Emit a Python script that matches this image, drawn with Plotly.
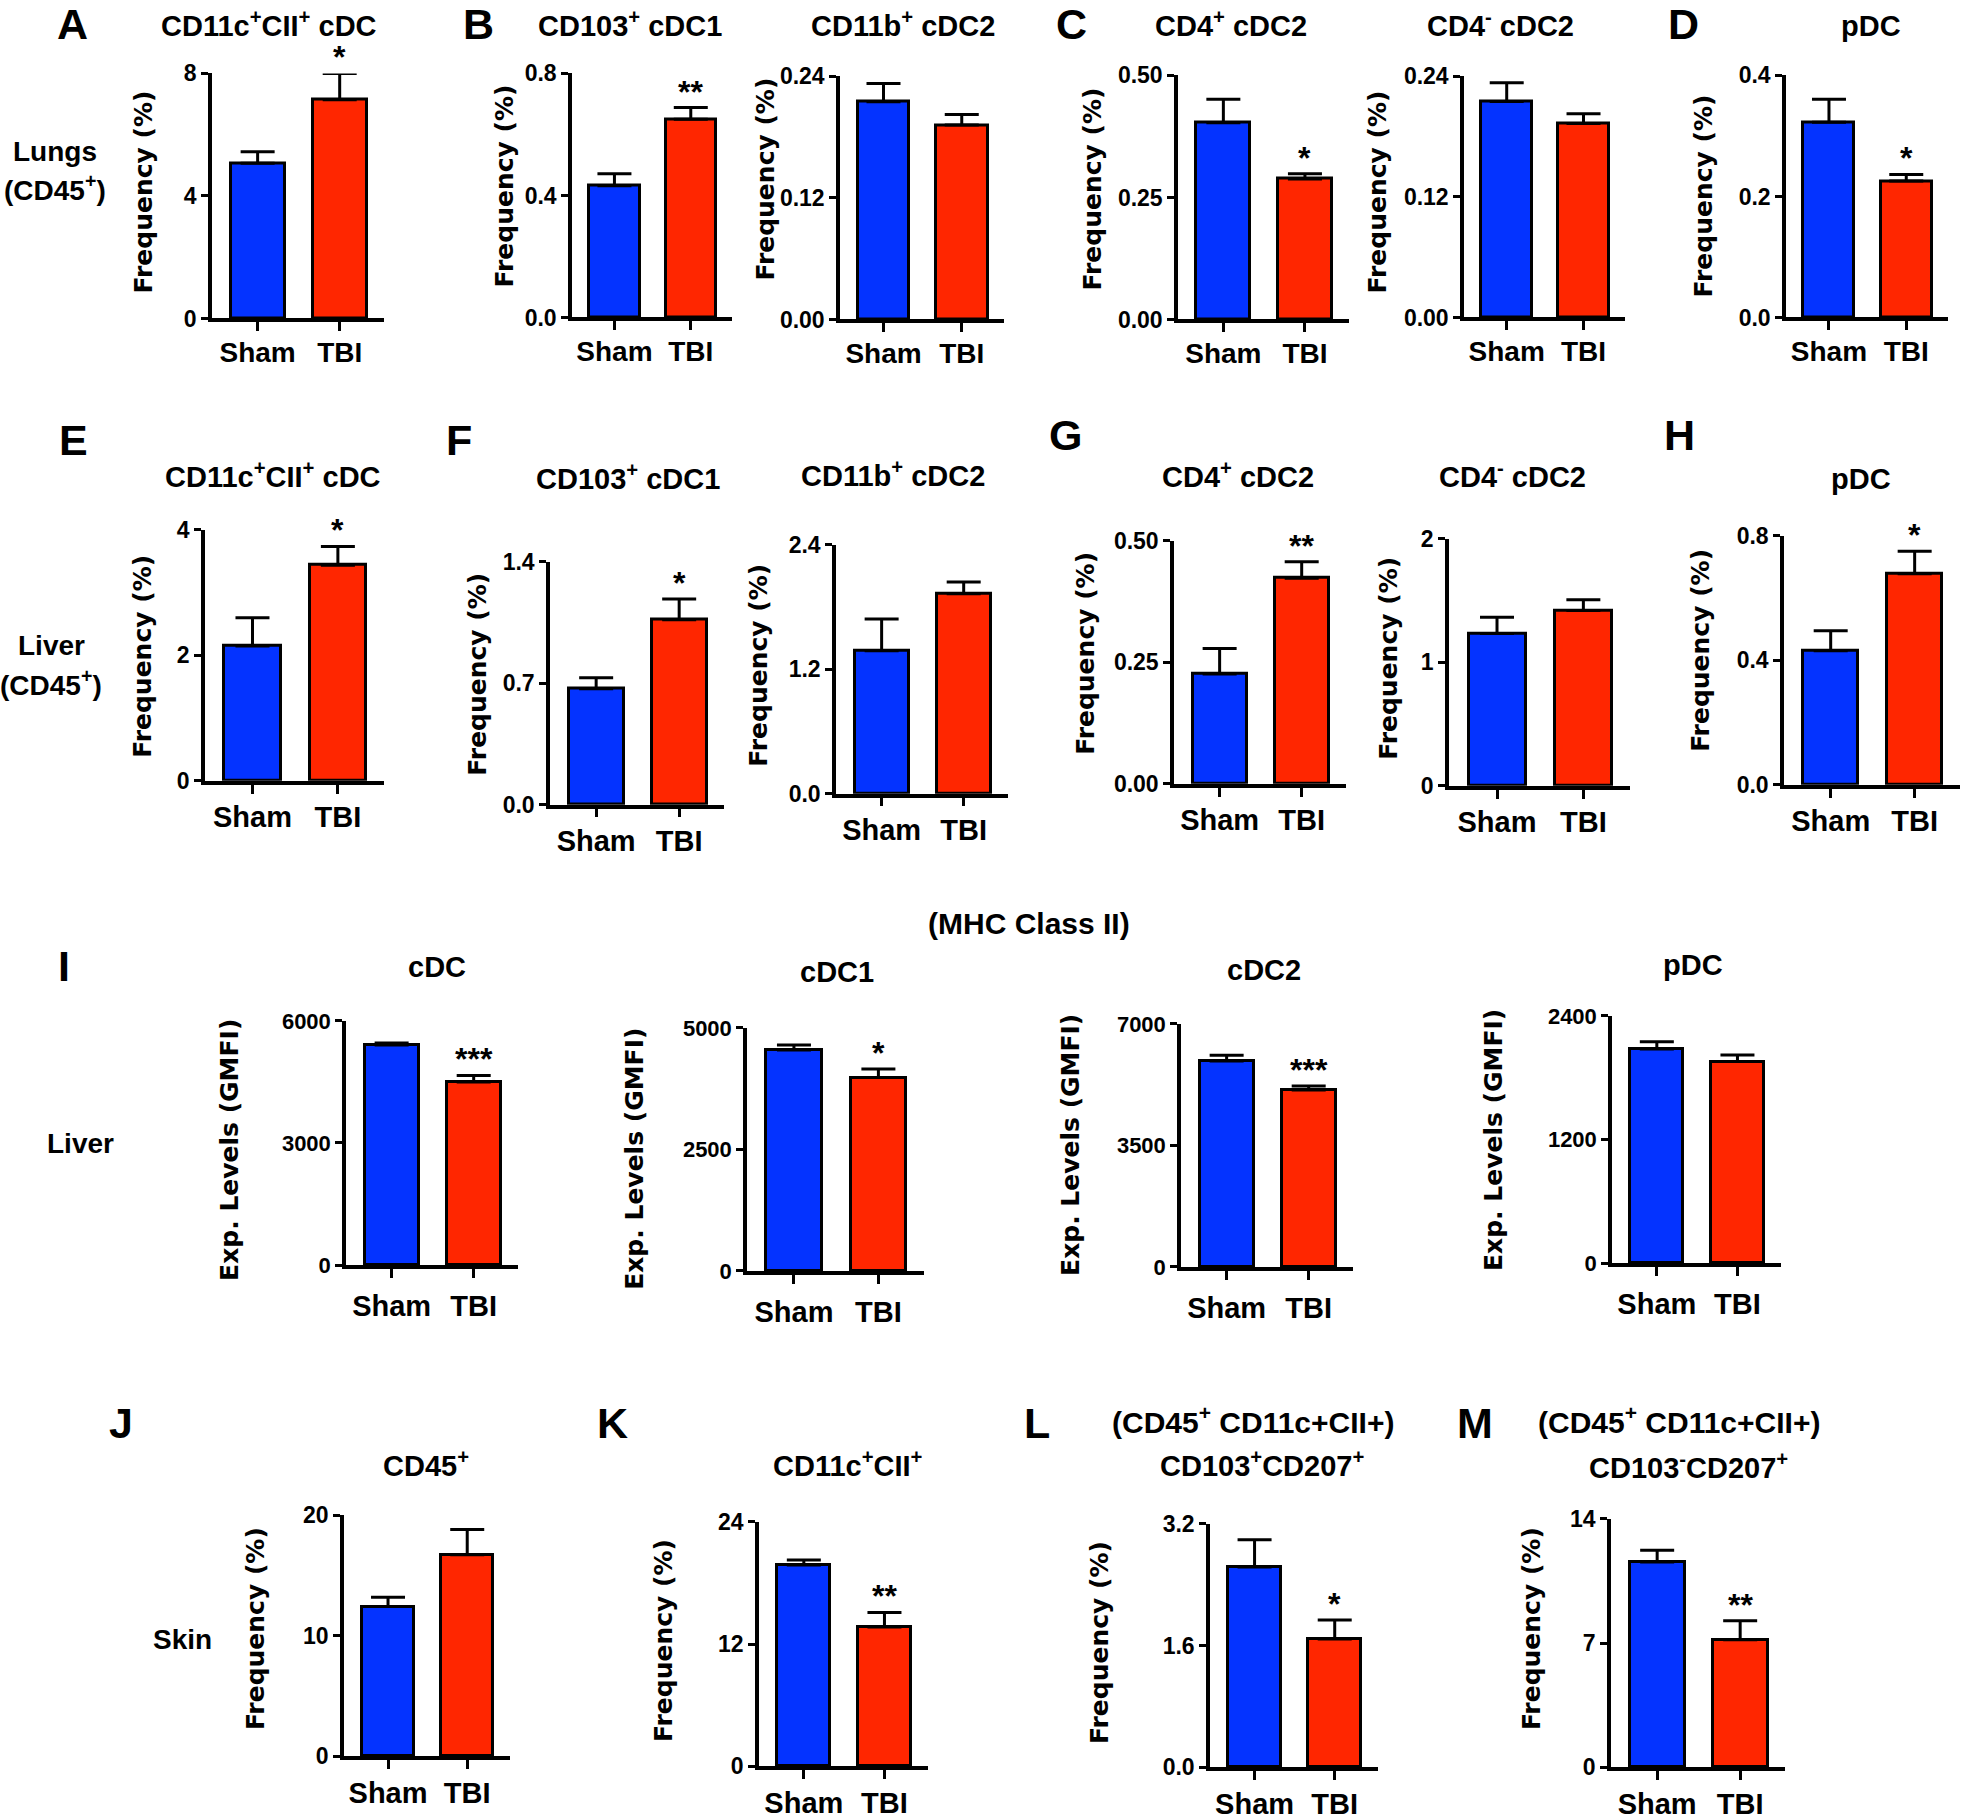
import plotly.graph_objects as go

# ---------------- data ----------------
GROUPS = ["Sham", "TBI"]

PANEL_IDS = ["A", "B1", "B2", "C1", "C2", "D",
             "E", "F1", "F2", "G1", "G2", "H",
             "I1", "I2", "I3", "I4",
             "J", "K", "L", "M"]

TITLES = [
    "CD11c<sup>+</sup>CII<sup>+</sup> cDC", "CD103<sup>+</sup> cDC1", "CD11b<sup>+</sup> cDC2",
    "CD4<sup>+</sup> cDC2", "CD4<sup>-</sup> cDC2", "pDC",
    "CD11c<sup>+</sup>CII<sup>+</sup> cDC", "CD103<sup>+</sup> cDC1", "CD11b<sup>+</sup> cDC2",
    "CD4<sup>+</sup> cDC2", "CD4<sup>-</sup> cDC2", "pDC",
    "cDC", "cDC1", "cDC2", "pDC",
    "CD45<sup>+</sup>", "CD11c<sup>+</sup>CII<sup>+</sup>",
    "CD103<sup>+</sup>CD207<sup>+</sup>", "CD103<sup>-</sup>CD207<sup>+</sup>",
]

SHAM_MEAN = [5.07, 0.432, 0.215, 0.403, 0.215, 0.3225,
             2.15, 0.667, 1.377, 0.226, 1.232, 0.431,
             5407, 4544, 5933, 2079,
             12.41, 19.77, 2.634, 11.57]
SHAM_SEM = [0.37, 0.039, 0.018, 0.048, 0.0187, 0.038,
            0.447, 0.064, 0.306, 0.0525, 0.133, 0.064,
            48, 102, 162, 70,
            0.77, 0.49, 0.357, 0.66]
TBI_MEAN = [7.14, 0.650, 0.192, 0.288, 0.193, 0.2254,
            3.435, 1.065, 1.928, 0.423, 1.419, 0.678,
            4496, 3978, 5095, 1957,
            16.71, 13.68, 1.685, 7.19]
TBI_SEM = [0.86, 0.038, 0.0105, 0.0105, 0.0098, 0.011,
           0.301, 0.12, 0.112, 0.034, 0.088, 0.072,
           163, 177, 115, 64,
           2.08, 1.43, 0.252, 1.06]

Y_MAX = [8, 0.8, 0.24, 0.50, 0.24, 0.4,
         4, 1.4, 2.4, 0.50, 2, 0.8,
         6000, 5000, 7000, 2400,
         20, 24, 3.2, 14]
Y_TICK_TEXT = [
    ["0", "4", "8"], ["0.0", "0.4", "0.8"], ["0.00", "0.12", "0.24"],
    ["0.00", "0.25", "0.50"], ["0.00", "0.12", "0.24"], ["0.0", "0.2", "0.4"],
    ["0", "2", "4"], ["0.0", "0.7", "1.4"], ["0.0", "1.2", "2.4"],
    ["0.00", "0.25", "0.50"], ["0", "1", "2"], ["0.0", "0.4", "0.8"],
    ["0", "3000", "6000"], ["0", "2500", "5000"], ["0", "3500", "7000"], ["0", "1200", "2400"],
    ["0", "10", "20"], ["0", "12", "24"], ["0.0", "1.6", "3.2"], ["0", "7", "14"],
]
SIG = ["*", "**", "", "*", "", "*",
       "*", "*", "", "**", "", "*",
       "***", "*", "***", "",
       "", "**", "*", "**"]
Y_TITLES = ["Frequency (%)"] * 12 + ["Exp. Levels (GMFI)"] * 4 + ["Frequency (%)"] * 4

PANEL_LETTERS = ["A", "B", "C", "D", "E", "F", "G", "H", "I", "J", "K", "L", "M"]
SIDE_LABELS = ["Lungs", "(CD45<sup>+</sup>)", "Liver", "(CD45<sup>+</sup>)", "Liver", "Skin"]
EXTRA_LABELS = ["(MHC Class II)", "(CD45<sup>+</sup> CD11c+CII+)", "(CD45<sup>+</sup> CD11c+CII+)"]

# ---------------- layout (pixel geometry) ----------------
W, H = 1968, 1820
BLUE = "#0433FF"
RED = "#FF2600"

# plot box: x_left, x_right, y_top, y_bottom
BOX = [
    (212, 384, 73, 320), (572, 732, 73, 319), (840, 1004, 76, 321),
    (1178, 1349, 75, 321), (1464, 1625, 76, 319), (1786, 1948, 75, 319),
    (205, 384, 530, 783), (550, 724, 562, 807), (836, 1008, 545, 796),
    (1174, 1346, 541, 786), (1449, 1630, 539, 788), (1784, 1960, 536, 787),
    (346, 518, 1022, 1268), (747, 924, 1029, 1274), (1181, 1353, 1025, 1270), (1612, 1781, 1017, 1266),
    (344, 510, 1523, 1766), (759, 928, 1530, 1776), (1210, 1378, 1532, 1777), (1611, 1785, 1527, 1777),
]
ROW = [0] * 6 + [1] * 6 + [2] * 4 + [3] * 4
ROW_SHIFT = [0, 3, 6, 3]
ROW_STANDOFF = [-3, -1, 3, -1]
TITLE_POS = [
    (269, 23), (630, 23), (903, 23), (1231, 23), (1500, 23), (1871, 25),
    (273, 478), (628, 480), (893, 477), (1238, 478), (1512, 478), (1861, 482),
    (437, 974), (837, 979), (1264, 977), (1693, 972),
    (426, 1475), (848, 1475), (1262, 1475), (1688, 1477),
]
YTITLE_POS = [
    (143, 193), (505, 187), (766, 180), (1093, 190), (1377, 193), (1703, 197),
    (143, 661), (478, 679), (759, 670), (1086, 658), (1389, 663), (1701, 655),
    (230, 1158), (635, 1167), (1071, 1153), (1494, 1148),
    (255, 1641), (663, 1653), (1099, 1655), (1531, 1641),
]
LETTER_POS = [(72, 23), (478, 23), (1071, 23), (1683, 23), (73, 442), (459, 442),
              (1065, 437), (1679, 437), (64, 973), (121, 1433), (612, 1433),
              (1037, 1433), (1475, 1433)]
SIDE_POS = [(55, 152), (55, 188), (51, 650), (51, 687), (80, 1152), (182, 1651)]
EXTRA_POS = [(1029, 930), (1253, 1430), (1679, 1430)]

FONT_WIDE = "Liberation Sans, Arial, sans-serif"
FONT_AXIS = "DejaVu Sans, Verdana, sans-serif"


def px(x):
    return x / W


def Y(y):
    # compensate the vertical mapping observed in the rendered page
    return (y - 12.1) / 0.9852


def py(y):
    return 1 - Y(y) / H


def bold(size, family=FONT_WIDE):
    return dict(family=family, size=size, color="black", weight="bold")


fig = go.Figure()
annotations = []

for i, pid in enumerate(PANEL_IDS):
    n = i + 1
    sfx = "" if n == 1 else str(n)
    xa, ya = "x" + sfx, "y" + sfx
    fig.add_trace(go.Bar(
        x=[0, 1], y=[SHAM_MEAN[i], TBI_MEAN[i]],
        xaxis=xa, yaxis=ya, width=0.66,
        marker=dict(color=[BLUE, RED], line=dict(color="black", width=3)),
        error_y=dict(type="data", symmetric=False,
                     array=[SHAM_SEM[i], TBI_SEM[i]], arrayminus=[0, 0],
                     color="black", thickness=3, width=17),
        showlegend=False, hoverinfo="skip",
    ))
    x0, x1, yt, yb = BOX[i]
    row = ROW[i]
    sh = ROW_SHIFT[row]
    ymax = Y_MAX[i]
    fig.update_layout(**{
        "xaxis" + sfx: dict(
            domain=[px(x0), px(x1)], anchor=ya, range=[-0.556, 1.54],
            tickmode="array", tickvals=[0, 1], ticktext=GROUPS,
            ticks="outside", ticklen=9, tickwidth=3, tickcolor="black",
            showline=True, linewidth=3.5, linecolor="black",
            showgrid=False, zeroline=False, fixedrange=True,
            tickfont=bold(28 if row == 0 else 29),
            ticklabelstandoff=ROW_STANDOFF[row],
        ),
        "yaxis" + sfx: dict(
            domain=[py(yb + sh), py(yt + sh)], anchor=xa, range=[0, ymax],
            tickmode="array", tickvals=[0, ymax / 2, ymax], ticktext=Y_TICK_TEXT[i],
            ticks="outside", ticklen=7, tickwidth=3, tickcolor="black",
            showline=True, linewidth=3.5, linecolor="black",
            showgrid=False, zeroline=False, fixedrange=True,
            tickfont=bold(23 if row != 2 else 22),
        ),
    })
    tx, ty = TITLE_POS[i]
    annotations.append(dict(x=px(tx), y=py(ty), xref="paper", yref="paper",
                            text=TITLES[i], showarrow=False, xanchor="center", yanchor="middle",
                            font=bold(29)))
    yx, yy = YTITLE_POS[i]
    annotations.append(dict(x=px(yx), y=py(yy), xref="paper", yref="paper",
                            text=Y_TITLES[i], showarrow=False, textangle=-90,
                            xanchor="center", yanchor="middle",
                            font=bold(25, FONT_AXIS)))
    if SIG[i]:
        annotations.append(dict(x=1, y=TBI_MEAN[i] + TBI_SEM[i], xref=xa, yref=ya,
                                text=SIG[i], showarrow=False, xanchor="center", yanchor="bottom",
                                yshift=-4, font=bold(32)))

for txt, (lx, ly) in zip(PANEL_LETTERS, LETTER_POS):
    annotations.append(dict(x=px(lx), y=py(ly), xref="paper", yref="paper", text=txt,
                            showarrow=False, xanchor="center", yanchor="middle",
                            font=bold(43)))
for txt, (lx, ly) in zip(SIDE_LABELS, SIDE_POS):
    annotations.append(dict(x=px(lx), y=py(ly), xref="paper", yref="paper", text=txt,
                            showarrow=False, xanchor="center", yanchor="middle",
                            font=bold(28)))
for txt, (lx, ly) in zip(EXTRA_LABELS, EXTRA_POS):
    annotations.append(dict(x=px(lx), y=py(ly), xref="paper", yref="paper", text=txt,
                            showarrow=False, xanchor="center", yanchor="middle",
                            font=bold(30)))

fig.update_layout(
    width=W, height=H, margin=dict(l=0, r=0, t=0, b=0, pad=0),
    paper_bgcolor="white", plot_bgcolor="white",
    showlegend=False, bargap=0, annotations=annotations,
)

fig.write_html(
    "out.html",
    config={"displayModeBar": False},
    post_script="document.body.style.margin='0px';document.body.style.overflow='hidden';",
)
